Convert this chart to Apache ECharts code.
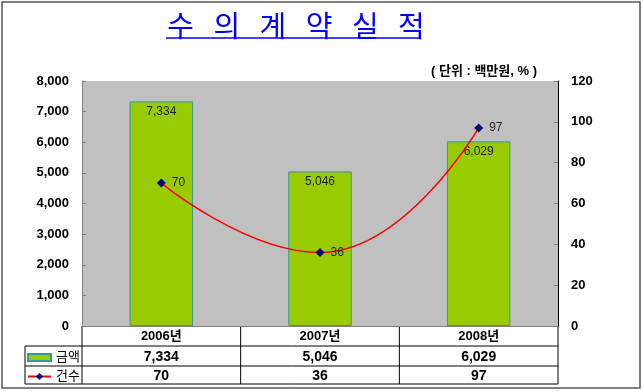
<!DOCTYPE html>
<html>
<head>
<meta charset="utf-8">
<script src="https://cdn.jsdelivr.net/npm/echarts@6/dist/echarts.min.js"></script>
<style>
html,body{margin:0;padding:0;background:#fff;}
#c{width:643px;height:392px;}
</style>
</head>
<body>
<div id="c"></div>
<script>
const categories = ['2006년', '2007년', '2008년'];
const amountValues = [7334, 5046, 6029];
const countValues = [70, 36, 97];
const leftTicks = [0, 8000, 1000];
const rightTicks = [0, 120, 20];
const seriesNames = ['금액', '건수'];
const titleText = '수   의   계   약   실   적';
const unitText = '( 단위 : 백만원, % )';

const FONT = "'Liberation Sans', Arial, 'Noto Sans CJK KR', sans-serif";
const fmt = v => v.toLocaleString('en-US');

const chart = echarts.init(document.getElementById('c'), null, {renderer: 'canvas'});

const GL = 82, GR = 558, GT = 81, GB = 326;
const legendText = {fontSize: 13, color: '#000', fontFamily: FONT};

chart.setOption({
  animation: false,
  backgroundColor: '#ffffff',
  title: {
    text: titleText,
    left: 291, top: 6, textAlign: 'center',
    textStyle: {color: '#0000ff', fontSize: 29, fontWeight: 'normal', fontFamily: "'Noto Sans CJK KR', sans-serif"}
  },
  grid: {left: GL, right: 643 - GR, top: GT, bottom: 392 - GB, backgroundColor: '#c0c0c0', show: true, borderWidth: 0},
  legend: [
    {left: 22, top: 346, itemWidth: 23, itemHeight: 7, itemGap: 0, textStyle: legendText,
     data: [{name: seriesNames[0], icon: 'rect'}]},
    {left: 22, top: 365, itemWidth: 23, itemHeight: 9, itemGap: 0, textStyle: legendText,
     data: [{name: seriesNames[1]}]}
  ],
  xAxis: {
    type: 'category', data: categories,
    axisLine: {lineStyle: {color: '#808080', width: 1}},
    axisTick: {show: false},
    axisLabel: {margin: 4, fontSize: 13, fontWeight: 'bold', color: '#000', fontFamily: FONT}
  },
  yAxis: [
    {
      type: 'value', min: leftTicks[0], max: leftTicks[1], interval: leftTicks[2],
      axisLine: {show: true, lineStyle: {color: '#808080'}},
      axisTick: {show: true, inside: true, length: 4, lineStyle: {color: '#808080'}},
      splitLine: {show: false},
      axisLabel: {margin: 13, fontSize: 13, fontWeight: 'bold', color: '#000', fontFamily: FONT, formatter: v => fmt(v)}
    },
    {
      type: 'value', min: rightTicks[0], max: rightTicks[1], interval: rightTicks[2],
      position: 'right',
      axisLine: {show: true, lineStyle: {color: '#000'}},
      axisTick: {show: true, inside: true, length: 4, lineStyle: {color: '#808080'}},
      splitLine: {show: false},
      axisLabel: {margin: 13, fontSize: 13, fontWeight: 'bold', color: '#000', fontFamily: FONT}
    }
  ],
  series: [
    {
      name: seriesNames[0], type: 'bar', data: amountValues, barWidth: '40%',
      itemStyle: {color: '#99cc00', borderColor: '#339999', borderWidth: 1},
      label: {show: true, position: 'insideTop', distance: 4, fontSize: 12, color: '#222', fontFamily: FONT, formatter: p => fmt(p.value)}
    },
    {
      name: seriesNames[1], type: 'line', yAxisIndex: 1, data: countValues, smooth: 0.5,
      symbol: 'diamond', symbolSize: 9,
      lineStyle: {color: '#ff0000', width: 1.5},
      itemStyle: {color: '#000080'},
      label: {show: true, position: 'right', distance: 6, fontSize: 12, color: '#222', fontFamily: FONT}
    }
  ]
});

// Data table built from the arrays, positioned via the axis scale
const centers = categories.map((c, i) => {
  const p = chart.convertToPixel({xAxisIndex: 0}, i);
  return Array.isArray(p) ? p[0] : p;
});
const band = centers.length > 1 ? centers[1] - centers[0] : (GR - GL);
const row1 = 346, row2 = 366, row3 = 384, tableLeft = 25;
const g = [];
const line = (x1, y1, x2, y2, color) => g.push({type: 'line', shape: {x1, y1, x2, y2}, style: {stroke: color || '#000', lineWidth: 1}, silent: true});
line(tableLeft, row1, GR, row1);
line(tableLeft, row2, GR, row2);
line(tableLeft, row3, GR, row3);
line(tableLeft, row1, tableLeft, row3);
line(GL, GB, GL, row3);
line(GR, GB, GR, row3);
centers.forEach((cx, i) => {
  if (i > 0) line(cx - band / 2, GB, cx - band / 2, row3);
  g.push({type: 'text', x: cx, y: (row1 + row2) / 2 + 1, style: {text: fmt(amountValues[i]), font: 'bold 14px ' + FONT, fill: '#000', align: 'center', verticalAlign: 'middle'}});
  g.push({type: 'text', x: cx, y: (row2 + row3) / 2 + 1, style: {text: String(countValues[i]), font: 'bold 14px ' + FONT, fill: '#000', align: 'center', verticalAlign: 'middle'}});
});
// title underline
g.push({type: 'line', shape: {x1: 166, y1: 38, x2: 420, y2: 38}, style: {stroke: '#0000ff', lineWidth: 1.5}});
// unit text
g.push({type: 'text', x: 484, y: 71, style: {text: unitText, font: 'bold 13px ' + FONT, fill: '#000', align: 'center', verticalAlign: 'middle'}});
// outer frame
g.push({type: 'rect', shape: {x: 2, y: 2, width: 638, height: 386}, style: {fill: 'none', stroke: '#555', lineWidth: 1.5}, silent: true, z: -1});

chart.setOption({graphic: g});
</script>
</body>
</html>
